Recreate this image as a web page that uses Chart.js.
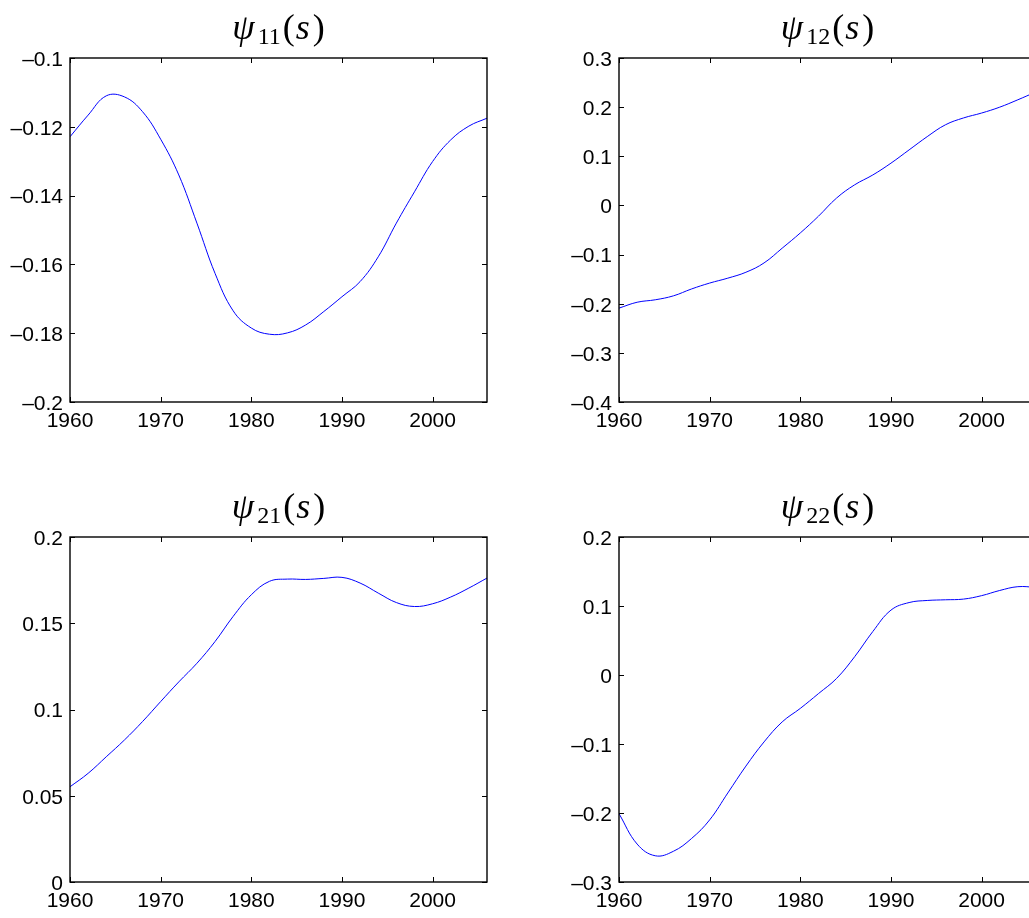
<!DOCTYPE html>
<html>
<head>
<meta charset="utf-8">
<script src="https://cdn.jsdelivr.net/npm/chart.js@4.4.1/dist/chart.umd.min.js"></script>
<style>
  html, body { margin: 0; padding: 0; background: #fff; overflow: hidden; }
  body { width: 1029px; height: 918px; position: relative; }
  canvas { position: absolute; }
</style>
</head>
<body>
<canvas id="c11" width="540" height="460" style="left:0;top:0"></canvas>
<canvas id="c12" width="550" height="460" style="left:540px;top:0"></canvas>
<canvas id="c21" width="540" height="458" style="left:0;top:460px"></canvas>
<canvas id="c22" width="550" height="458" style="left:540px;top:460px"></canvas>
<script>
const years = [1960, 1962, 1964, 1966, 1968, 1970, 1972, 1974, 1976, 1978, 1980, 1982,
  1984, 1986, 1988, 1990, 1992, 1994, 1996, 1998, 2000, 2002, 2004, 2006];

const psi11 = [-0.1229, -0.1166, -0.111, -0.1113, -0.1156, -0.1236, -0.134, -0.148,
  -0.1626, -0.1735, -0.1785, -0.1803, -0.1799, -0.1776, -0.1737, -0.1694, -0.165,
  -0.1578, -0.148, -0.1389, -0.1301, -0.1238, -0.1198, -0.1175];
const psi12 = [-0.209, -0.197, -0.192, -0.184, -0.17, -0.158, -0.148, -0.136, -0.117,
  -0.087, -0.056, -0.022, 0.015, 0.042, 0.062, 0.086, 0.113, 0.14, 0.164, 0.178, 0.188,
  0.2, 0.215, 0.231];
const psi21 = [0.0552, 0.063, 0.0726, 0.0823, 0.093, 0.1046, 0.116, 0.1268, 0.1394,
  0.154, 0.1665, 0.1743, 0.1756, 0.1754, 0.176, 0.1766, 0.1733, 0.1675, 0.162, 0.1597,
  0.1613, 0.1652, 0.1704, 0.1762];
const psi22 = [-0.201, -0.245, -0.262, -0.2555, -0.237, -0.21, -0.171, -0.132,
  -0.097, -0.068, -0.0484, -0.027, -0.005, 0.0266, 0.063, 0.094, 0.105, 0.108, 0.109,
  0.11, 0.115, 0.1225, 0.128, 0.127];

const xTicks = [1960, 1970, 1980, 1990, 2000];
const yTicks11 = [-0.2, -0.18, -0.16, -0.14, -0.12, -0.1];
const yTicks12 = [-0.4, -0.3, -0.2, -0.1, 0, 0.1, 0.2, 0.3];
const yTicks21 = [0, 0.05, 0.1, 0.15, 0.2];
const yTicks22 = [-0.3, -0.2, -0.1, 0, 0.1, 0.2];

// MATLAB-like box with inward ticks on all four sides
const framePlugin = {
  id: "frame",
  afterDraw(chart) {
    const ctx = chart.ctx;
    const a = chart.chartArea;
    const xs = chart.scales.x;
    const ys = chart.scales.y;
    const len = 5;
    ctx.save();
    ctx.strokeStyle = "#000";
    ctx.lineWidth = 1;
    ctx.beginPath();
    xs.ticks.forEach(t => {
      const px = Math.round(xs.getPixelForValue(t.value)) + 0.5;
      ctx.moveTo(px, a.bottom);
      ctx.lineTo(px, a.bottom - len);
      ctx.moveTo(px, a.top);
      ctx.lineTo(px, a.top + len);
    });
    ys.ticks.forEach(t => {
      const py = Math.round(ys.getPixelForValue(t.value)) + 0.5;
      ctx.moveTo(a.left, py);
      ctx.lineTo(a.left + len, py);
      ctx.moveTo(a.right, py);
      ctx.lineTo(a.right - len, py);
    });
    ctx.stroke();
    ctx.lineWidth = 1.4;
    ctx.strokeRect(a.left, a.top, a.right - a.left, a.bottom - a.top);
    ctx.restore();
  }
};

// title like psi_{11}(s)
const titlePlugin = {
  id: "psiTitle",
  afterDraw(chart, args, opts) {
    const ctx = chart.ctx;
    const a = chart.chartArea;
    const parts = [
      { t: "\u03C8", f: "italic 36px 'Liberation Serif'", dy: 0, gap: 3 },
      { t: opts.sub, f: "24px 'Liberation Serif'", dy: 5, gap: 2 },
      { t: "(", f: "36px 'Liberation Serif'", dy: 0, gap: 1 },
      { t: "s", f: "italic 36px 'Liberation Serif'", dy: 0, gap: 3 },
      { t: ")", f: "36px 'Liberation Serif'", dy: 0, gap: 0 }
    ];
    ctx.save();
    ctx.fillStyle = "#000";
    ctx.textBaseline = "alphabetic";
    let total = 0;
    parts.forEach(p => {
      ctx.font = p.f;
      p.w = ctx.measureText(p.t).width;
      total += p.w + p.gap;
    });
    let x = (a.left + a.right) / 2 - total / 2;
    const base = a.top - 19;
    parts.forEach(p => {
      ctx.font = p.f;
      ctx.fillText(p.t, x, base + p.dy);
      x += p.w + p.gap;
    });
    ctx.restore();
  }
};

function fmt(v) {
  return String(+v.toFixed(4)).replace("-", "\u2013");
}

function makeChart(id, values, yTicks, sub, yWidth, xHeight, padding) {
  const ctx = document.getElementById(id).getContext("2d");
  return new Chart(ctx, {
    type: "line",
    data: {
      datasets: [
        {
          data: years.map((x, i) => ({ x: x, y: values[i] })),
          borderColor: "#0000ff",
          borderWidth: 1,
          pointRadius: 0,
          tension: 0.4,
          fill: false
        }
      ]
    },
    options: {
      responsive: false,
      animation: false,
      layout: { padding: padding },
      plugins: {
        legend: { display: false },
        title: { display: false },
        tooltip: { enabled: false },
        psiTitle: { sub: sub }
      },
      scales: {
        x: {
          type: "linear",
          min: 1960,
          max: 2006,
          afterBuildTicks: s => { s.ticks = xTicks.map(v => ({ value: v })); },
          afterFit: s => { s.height = xHeight; },
          grid: { display: false, drawTicks: false, tickLength: 0 },
          border: { display: false },
          ticks: {
            padding: 7,
            maxRotation: 0,
            autoSkip: false,
            color: "#000",
            font: { family: "'Liberation Sans', Arial", size: 21 },
            callback: v => String(v)
          }
        },
        y: {
          type: "linear",
          min: yTicks[0],
          max: yTicks[yTicks.length - 1],
          afterBuildTicks: s => { s.ticks = yTicks.map(v => ({ value: v })); },
          afterFit: s => { s.width = yWidth; },
          grid: { display: false, drawTicks: false, tickLength: 0 },
          border: { display: false },
          ticks: {
            padding: 7,
            labelOffset: 2,
            autoSkip: false,
            color: "#000",
            font: { family: "'Liberation Sans', Arial", size: 21 },
            callback: v => fmt(v)
          }
        }
      }
    },
    plugins: [framePlugin, titlePlugin]
  });
}

makeChart("c11", psi11, yTicks11, "11", 70, 58, { top: 58, right: 53, left: 0, bottom: 0 });
makeChart("c12", psi12, yTicks12, "12", 79, 58, { top: 58, right: 54, left: 0, bottom: 0 });
makeChart("c21", psi21, yTicks21, "21", 70, 36, { top: 77, right: 53, left: 0, bottom: 0 });
makeChart("c22", psi22, yTicks22, "22", 79, 36, { top: 77, right: 54, left: 0, bottom: 0 });
</script>
</body>
</html>
